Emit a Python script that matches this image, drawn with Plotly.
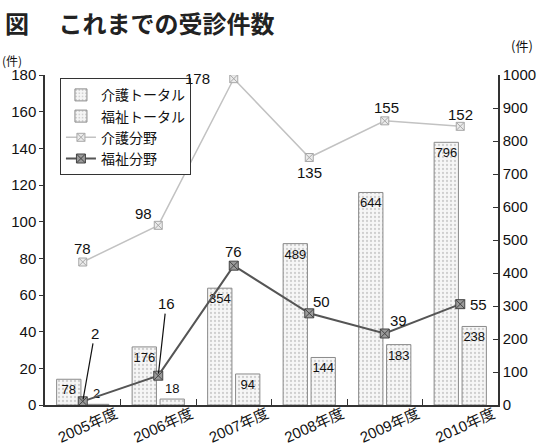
import plotly.graph_objects as go

years = ["2005年度", "2006年度", "2007年度", "2008年度", "2009年度", "2010年度"]
kaigo_total = [78, 176, 354, 489, 644, 796]
fukushi_total = [2, 18, 94, 144, 183, 238]
kaigo_field = [78, 98, 178, 135, 155, 152]
fukushi_field = [2, 16, 76, 50, 39, 55]

JP = "Noto Sans CJK JP"
NUM = "Liberation Sans, Arial, " + JP

bar_marker = dict(
    color="#f2f2f2",
    line=dict(color="#8a8a8a", width=1),
    pattern=dict(shape=".", fgcolor="#a8a8a8", bgcolor="#f6f6f6", size=4, solidity=0.25),
)
bar_font = dict(family=NUM, size=13, color="#111")

fig = go.Figure()
fig.add_trace(go.Bar(
    x=years, y=kaigo_total, name="介護トータル", yaxis="y",
    marker=bar_marker, text=kaigo_total, textposition="inside", textangle=0,
    insidetextanchor="end", constraintext="none",
    textfont=bar_font, insidetextfont=bar_font, outsidetextfont=bar_font,
))
fig.add_trace(go.Bar(
    x=years, y=fukushi_total, name="福祉トータル", yaxis="y",
    marker=bar_marker, text=fukushi_total, textangle=0,
    textposition=["outside", "outside", "inside", "inside", "inside", "inside"],
    insidetextanchor="end", constraintext="none", cliponaxis=False,
    textfont=bar_font, insidetextfont=bar_font, outsidetextfont=bar_font,
))
fig.add_trace(go.Scatter(
    x=years, y=kaigo_field, name="介護分野", yaxis="y2", mode="lines+markers",
    line=dict(color="#c2c2c2", width=1.5),
    marker=dict(symbol="square-x", size=8, color="#ebebeb", line=dict(color="#a8a8a8", width=1)),
))
fig.add_trace(go.Scatter(
    x=years, y=fukushi_field, name="福祉分野", yaxis="y2", mode="lines+markers",
    line=dict(color="#555555", width=2),
    marker=dict(symbol="square-x", size=9, color="#9a9a9a", line=dict(color="#444", width=1)),
))

annotations = []
# 介護分野 labels (offsets in px)
k_off = [(0, -14), (-15, -12), (-36, 0), (0, 15), (2, -13), (0, -12)]
for yr, v, (dx, dy) in zip(years, kaigo_field, k_off):
    annotations.append(dict(x=yr, y=v, xref="x", yref="y2", text=str(v), showarrow=False,
                            xshift=dx, yshift=-dy, font=dict(family=NUM, size=15, color="#111")))
# 福祉分野 labels
f_off = [(12, -68, True), (8, -72, True), (0, -14, False), (12, -12, False), (14, -13, False), (18, 0, False)]
for yr, v, (dx, dy, arrow) in zip(years, fukushi_field, f_off):
    if arrow:
        annotations.append(dict(x=yr, y=v, xref="x", yref="y2", text=str(v), showarrow=True,
                                ax=dx, ay=dy, arrowhead=0, arrowwidth=1.2, arrowcolor="#111",
                                standoff=2, font=dict(family=NUM, size=15, color="#111")))
    else:
        annotations.append(dict(x=yr, y=v, xref="x", yref="y2", text=str(v), showarrow=False,
                                xshift=dx, yshift=-dy, font=dict(family=NUM, size=15, color="#111")))

annotations += [
    dict(xref="paper", yref="paper", x=-0.099, y=1.045, xanchor="left", yanchor="middle",
         text="(件)", showarrow=False, font=dict(family=JP, size=12, color="#111")),
    dict(xref="paper", yref="paper", x=1.025, y=1.09, xanchor="left", yanchor="middle",
         text="(件)", showarrow=False, font=dict(family=JP, size=13, color="#111")),
    dict(xref="paper", yref="paper", x=-0.092, y=1.16, xanchor="left", yanchor="middle",
         text="<b>図</b>\u3000 <b>これまでの受診件数</b>", showarrow=False,
         font=dict(family=JP, size=24, color="#222")),
]

fig.update_layout(
    width=539, height=448,
    margin=dict(l=45, r=41, t=75, b=43, autoexpand=False),
    paper_bgcolor="white", plot_bgcolor="white",
    barmode="group", bargap=0.26, bargroupgap=0.13,
    showlegend=True,
    legend=dict(x=0.033, y=0.99, xanchor="left", yanchor="top",
                bgcolor="white", bordercolor="#333", borderwidth=1,
                font=dict(family=JP, size=14, color="#111"),
                tracegroupgap=0, itemwidth=30),
    xaxis=dict(type="category", showline=True, linecolor="#333", linewidth=1.5,
               ticks="inside", tickson="boundaries", ticklen=6, tickcolor="#333",
               tickangle=-24, ticklabelshift=33, ticklabelstandoff=-7, automargin=False,
               tickfont=dict(family=NUM, size=15, color="#111"),
               showgrid=False, zeroline=False),
    yaxis=dict(side="right", range=[0, 1000], dtick=100, showline=True, linecolor="#333",
               linewidth=1.5, ticks="inside", ticklen=5, tickcolor="#333", automargin=False,
               tickfont=dict(family=NUM, size=15, color="#111"),
               showgrid=False, zeroline=False),
    yaxis2=dict(overlaying="y", side="left", range=[0, 180], dtick=20, showline=True,
                linecolor="#333", linewidth=1.5, ticks="outside", ticklen=4, tickcolor="#333",
                automargin=False,
                tickfont=dict(family=NUM, size=15, color="#111"),
                showgrid=False, zeroline=False),
    annotations=annotations,
)

fig.write_html("out.html")
